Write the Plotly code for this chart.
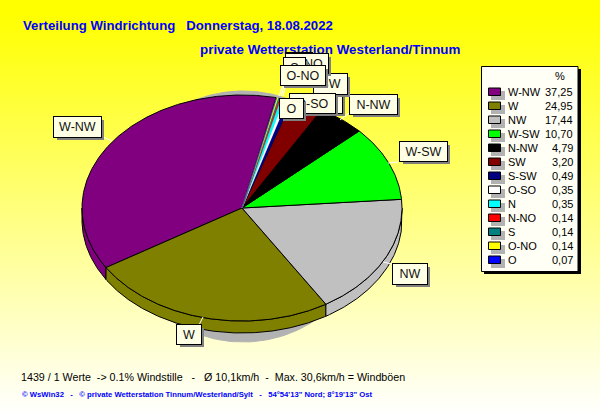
import numpy as np
import plotly.graph_objects as go

# wind direction shares, in the order of the legend
directions = ['W-NW', 'W', 'NW', 'W-SW', 'N-NW', 'SW', 'S-SW', 'O-SO', 'N', 'N-NO', 'S', 'O-NO', 'O']
percent = [37.25, 24.95, 17.44, 10.70, 4.79, 3.20, 0.49, 0.35, 0.35, 0.14, 0.14, 0.14, 0.07]
colors = ['#800080', '#808000', '#C0C0C0', '#00FF00', '#000000', '#800000', '#000080',
          '#FFFFFF', '#00FFFF', '#FF0000', '#008080', '#FFFF00', '#0000FF']

title1 = 'Verteilung Windrichtung\u00a0\u00a0\u00a0Donnerstag, 18.08.2022'
title2 = 'private Wetterstation Westerland/Tinnum'
footer1 = ('1439 / 1 Werte\u00a0\u00a0-> 0.1% Windstille\u00a0\u00a0\u00a0-\u00a0\u00a0\u00a0Ø 10,1km/h'
           '\u00a0\u00a0-\u00a0\u00a0Max. 30,6km/h = Windböen')
footer2 = ('© WsWin32\u00a0\u00a0\u00a0-\u00a0\u00a0\u00a0© private Wetterstation Tinnum/Westerland/Sylt'
           '\u00a0\u00a0\u00a0-\u00a0\u00a0\u00a054°54\'13" Nord; 8°19\'13" Ost')

# pie geometry in page pixels
cx, cy = 242, 208
rx, ry = 160, 113
depth = 12
start = 12.3  # degrees clockwise from top, slices run counter clockwise

fig = go.Figure()

# background fade
rows = list(range(416))
fig.add_trace(go.Heatmap(z=[[r] for r in rows], x0=300, dx=600, y=rows, showscale=False,
                         colorscale=[[0, '#FFFF00'], [0.03, '#FFFF00'], [1, '#FFFFFF']],
                         hoverinfo='skip'))


def arc(a0, a1, dy=0):
    t = np.radians(np.linspace(a0, a1, max(int(abs(a1 - a0)) * 2, 2)))
    return cx + rx * np.sin(t), cy - ry * np.cos(t) + dy


def poly(x, y, color, line='black', width=1):
    fig.add_trace(go.Scatter(x=x, y=y, mode='lines', fill='toself', fillcolor=color,
                             line=dict(color=line, width=width), hoverinfo='skip', showlegend=False))


# shadow
t = np.radians(np.linspace(0, 360, 200))
poly(243 + 128 * np.sin(t), 216.5 - 125.5 * np.cos(t), '#B2B2B2', '#B2B2B2')

ends = start - np.cumsum(percent) * 3.6
begins = np.concatenate([[start], ends[:-1]])

# rim of the front half
for a0, a1, c in zip(begins, ends, colors):
    lo, hi = max(a1, -270), min(a0, -90)
    if lo < hi:
        x, y = arc(hi, lo)
        x2, y2 = arc(lo, hi, depth)
        poly(np.r_[x, x2, x[0]], np.r_[y, y2, y[0]], c)

# top face
for a0, a1, c, p in zip(begins, ends, colors, percent):
    x, y = arc(a0, a1)
    if p > 1:
        poly(np.r_[cx, x, cx], np.r_[cy, y, cy], c)
    else:
        poly(np.r_[cx, x, cx], np.r_[cy, y, cy], c, c, 0.4)

shapes = []

# leader lines
leaders = [(103, 137, 112, 141), (388, 163, 398, 162), (383, 262, 392, 264), (203, 317, 199, 325),
           (340, 120, 349, 113), (281, 96, 285, 83), (283, 96, 286, 83), (279, 96, 284, 83)]
for x0, y0, x1, y1 in leaders:
    shapes.append(dict(type='line', x0=x0, y0=y0, x1=x1, y1=y1, line=dict(color='white', width=1)))

# legend box
shapes.append(dict(type='rect', x0=484, y0=69, x1=581, y1=274, fillcolor='black', line_width=0))
shapes.append(dict(type='rect', x0=481.5, y0=66.5, x1=578, y1=271.5, fillcolor='#FFFFF5',
                   line=dict(color='black', width=1)))

annotations = []


def text(x, y, s, size=11, color='black', anchor='left', bold=False, family='Liberation Sans'):
    # annotations carry 2px of padding on the anchored side
    x = x - 2 if anchor == 'left' else x + 2 if anchor == 'right' else x
    annotations.append(dict(x=x, y=y, text='<b>%s</b>' % s if bold else s, showarrow=False, xanchor=anchor,
                            yanchor='middle', font=dict(family=family, size=size, color=color)))


text(23, 25, title1, 13.2, '#0000FF', bold=True)
text(200, 49, title2, 13.4, '#0000FF', bold=True)
text(21, 377, footer1, 10.7)
text(22, 394, footer2, 7.7, '#0000FF', bold=True)

text(560, 76, '%', 11, anchor='center')
for i, (d, p, c) in enumerate(zip(directions, percent, colors)):
    y = 92 + i * 14
    shapes.append(dict(type='rect', x0=491, y0=y - 1, x1=505, y1=y + 8, fillcolor='#B2B2B2', line_width=0))
    shapes.append(dict(type='rect', x0=488.5, y0=y - 4, x1=500.5, y1=y + 3.5, fillcolor=c,
                       line=dict(color='black', width=1)))
    text(508, y, d, 11)
    text(573, y, ('%.2f' % p).replace('.', ','), 11, anchor='right')

# pie labels, back to front
boxes = [('W-NW', 53, 116, 47, 20), ('W', 176, 324, 24, 19), ('NW', 392, 263, 34, 20), ('W-SW', 399, 141, 47, 19),
         ('N-NW', 349, 94, 47, 19), ('S-SW', 296, 93, 45, 19), ('SW', 313, 73, 33, 20), ('N', 285, 52, 26, 20),
         ('N-NO', 285, 53, 42, 19), ('S', 283, 57, 21, 20), ('O-SO', 289, 93, 45, 19), ('O-NO', 280, 65, 44, 19),
         ('O', 279, 98, 23, 19)]
for name, x, y, w, h in boxes:
    annotations.append(dict(x=x + 4, y=y + 4, text='\u00a0', showarrow=False, xanchor='left', yanchor='top',
                            width=w, height=h, bgcolor='#808080', borderpad=0, borderwidth=0,
                            font=dict(size=12)))
    annotations.append(dict(x=x, y=y, text=name, showarrow=False, xanchor='left', yanchor='top',
                            width=w, height=h, bgcolor='#FFFFE6', bordercolor='black', borderwidth=1,
                            borderpad=0, align='center',
                            font=dict(family='Liberation Sans', size=12.5, color='#111111')))

fig.update_layout(width=600, height=415, margin=dict(l=0, r=0, t=0, b=0), showlegend=False,
                  plot_bgcolor='white', paper_bgcolor='white', shapes=shapes, annotations=annotations,
                  xaxis=dict(range=[0, 600], visible=False, fixedrange=True),
                  yaxis=dict(range=[415, 0], visible=False, fixedrange=True))

fig.write_html("out.html", config={'displayModeBar': False},
               post_script="document.body.style.margin='0';document.body.style.overflow='hidden';")
